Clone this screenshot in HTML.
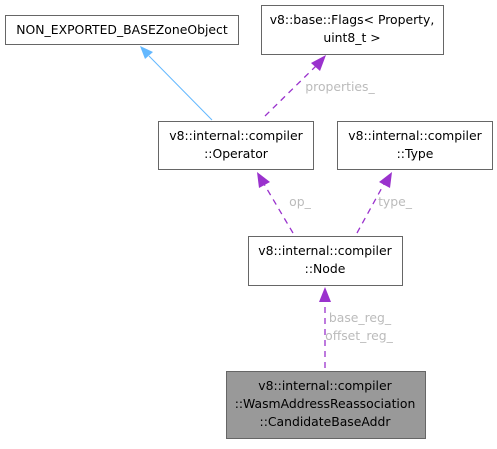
<!DOCTYPE html>
<html><head><meta charset="utf-8"><style>html,body{margin:0;padding:0;background:#fff}</style></head>
<body>
<svg width="497" height="444" viewBox="0 0 497 444" xmlns="http://www.w3.org/2000/svg" font-family="'DejaVu Sans','Liberation Sans',sans-serif" font-size="12.4">
<g fill="#fff" stroke="#666" stroke-width="1">
<rect x="5.5" y="15.5" width="233" height="29"/>
<rect x="261.5" y="5.5" width="182" height="49"/>
<rect x="158.5" y="121.5" width="155" height="48"/>
<rect x="337.5" y="121.5" width="155" height="48"/>
<rect x="248.5" y="236.5" width="154" height="49"/>
<rect x="226.5" y="371.5" width="199" height="67" fill="#999"/>
</g>
<g fill="#000" text-anchor="middle">
<text x="122" y="34">NON_EXPORTED_BASEZoneObject</text>
<text x="352" y="24">v8::base::Flags&lt; Property,</text>
<text x="352" y="42">uint8_t &gt;</text>
<text x="236" y="140">v8::internal::compiler</text>
<text x="236" y="158">::Operator</text>
<text x="415" y="140">v8::internal::compiler</text>
<text x="415" y="158">::Type</text>
<text x="325" y="255">v8::internal::compiler</text>
<text x="325" y="273">::Node</text>
<text x="325" y="390">v8::internal::compiler</text>
<text x="325" y="408">::WasmAddressReassociation</text>
<text x="325" y="426">::CandidateBaseAddr</text>
</g>
<g fill="#bbb" text-anchor="middle">
<text x="340" y="91">properties_</text>
<text x="300" y="206">op_</text>
<text x="395" y="206">type_</text>
<text x="360" y="322">base_reg_</text>
<text x="359" y="340">offset_reg_</text>
</g>
<line x1="212" y1="120" x2="149" y2="56" stroke="#63b8ff" stroke-width="1"/>
<polygon points="140,46 153,52 145,59" fill="#63b8ff"/>
<g stroke="#9a32cd" stroke-width="1.3" stroke-dasharray="6,5" fill="none">
<line x1="265" y1="116" x2="316" y2="66"/>
<line x1="293" y1="233" x2="264" y2="184"/>
<line x1="357" y1="233" x2="384" y2="184"/>
<line x1="325" y1="368" x2="325" y2="300"/>
</g>
<g fill="#9a32cd">
<polygon points="326,55 320,71 311,63"/>
<polygon points="257,172 270,182 259,188"/>
<polygon points="392,172 390,188 379,182"/>
<polygon points="325,287 331,302 319,302"/>
</g>
</svg>
</body></html>
